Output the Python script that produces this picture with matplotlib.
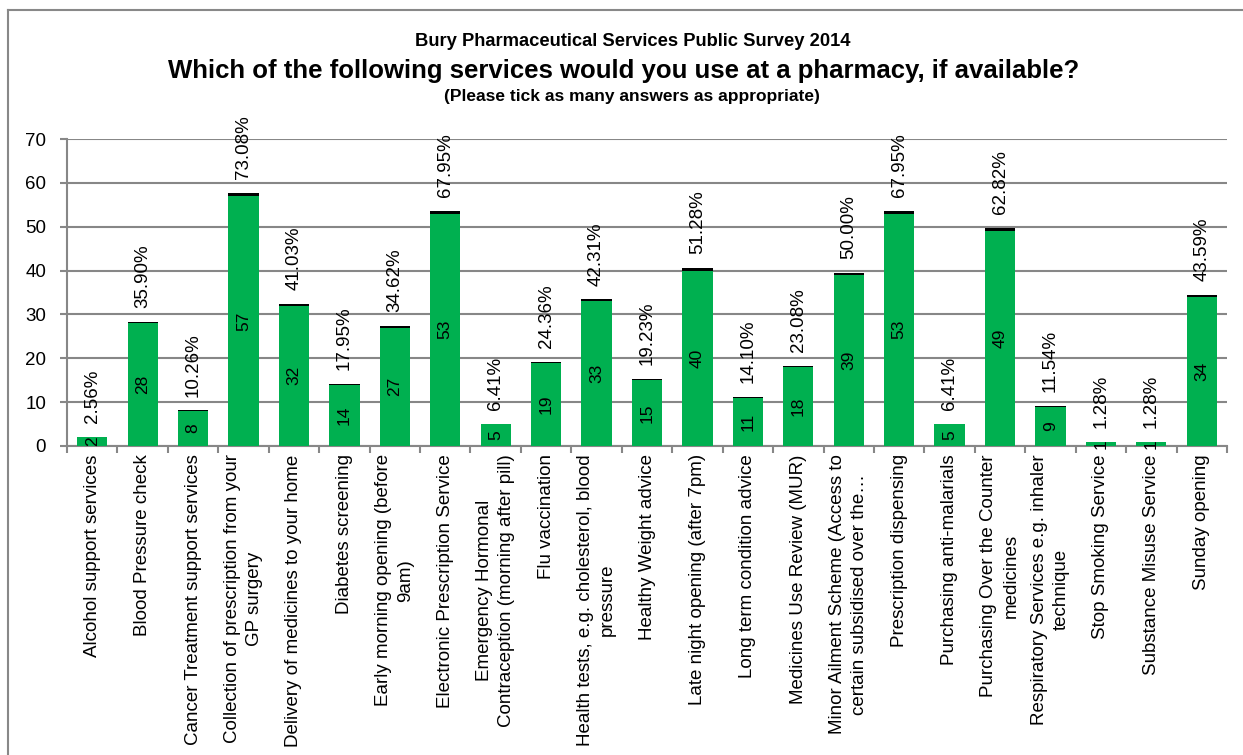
import matplotlib.pyplot as plt
from matplotlib.lines import Line2D

plt.rcParams['font.family'] = ['Liberation Sans', 'DejaVu Sans']

services = [
    "Alcohol support services",
    "Blood Pressure check",
    "Cancer Treatment support services",
    "Collection of prescription from your\nGP surgery",
    "Delivery of medicines to your home",
    "Diabetes screening",
    "Early morning opening (before\n9am)",
    "Electronic Prescription Service",
    "Emergency Hormonal\nContraception (morning after pill)",
    "Flu vaccination",
    "Health tests, e.g. cholesterol, blood\npressure",
    "Healthy Weight advice",
    "Late night opening (after 7pm)",
    "Long term condition advice",
    "Medicines Use Review (MUR)",
    "Minor Ailment Scheme (Access to\ncertain subsidised over the\u2026",
    "Prescription dispensing",
    "Purchasing anti-malarials",
    "Purchasing Over the Counter\nmedicines",
    "Respiratory Services e.g. inhaler\ntechnique",
    "Stop Smoking Service",
    "Substance Misuse Service",
    "Sunday opening",
]
counts = [2, 28, 8, 57, 32, 14, 27, 53, 5, 19, 33, 15, 40, 11, 18, 39, 53, 5, 49, 9, 1, 1, 34]
percents = [2.56, 35.90, 10.26, 73.08, 41.03, 17.95, 34.62, 67.95, 6.41, 24.36, 42.31, 19.23,
            51.28, 14.10, 23.08, 50.00, 67.95, 6.41, 62.82, 11.54, 1.28, 1.28, 43.59]

green = '#00B050'
grey = '#878787'

fig = plt.figure(figsize=(12.43, 7.55), dpi=100)
ax = fig.add_axes([67 / 1243, 1 - 446 / 755, 1160 / 1243, 307 / 755])

x = list(range(len(services)))
fractions = [p / 100 for p in percents]
ax.bar(x, counts, width=0.6, color=green, zorder=3)
ax.bar(x, fractions, width=0.6, bottom=counts, color='black', zorder=3)

for xi, c, p, f in zip(x, counts, percents, fractions):
    ax.text(xi, c / 2, str(c), rotation=90, ha='center', va='center',
            fontsize=12.5, zorder=4)
    ax.annotate('%.2f%%' % p, (xi, c + f), xytext=(0, 10), textcoords='offset points',
                rotation=90, ha='center', va='bottom', fontsize=13.5)

ax.set_xlim(-0.5, len(services) - 0.5)
ax.set_ylim(0, 70)
ax.set_yticks(range(0, 71, 10))
ax.yaxis.grid(True, color=grey, linewidth=1.5, zorder=0)
ax.tick_params(axis='y', labelsize=13.5, length=5, width=1.5, color=grey, pad=10)

ax.set_xticks(x)
ax.set_xticklabels(services, rotation=90, ha='center', va='top', multialignment='center',
                   fontsize=13.5, linespacing=1.4)
ax.set_xticks([i - 0.5 for i in range(len(services) + 1)], minor=True)
ax.tick_params(axis='x', which='major', length=0, pad=6)
ax.tick_params(axis='x', which='minor', length=5, width=1.5, color=grey)

for side in ['top', 'right']:
    ax.spines[side].set_visible(False)
for side in ['left', 'bottom']:
    ax.spines[side].set_color(grey)
    ax.spines[side].set_linewidth(1.5)

fig.text(0.509, 1 - 42 / 755, 'Bury Pharmaceutical Services Public Survey 2014',
         ha='center', va='center', fontsize=13.2, fontweight='bold')
fig.text(0.502, 1 - 71 / 755, 'Which of the following services would you use at a pharmacy, if available?',
         ha='center', va='center', fontsize=18.5, fontweight='bold')
fig.text(0.508, 1 - 97 / 755, '(Please tick as many answers as appropriate)',
         ha='center', va='center', fontsize=12.5, fontweight='bold')

# outer chart border
fig.add_artist(Line2D([8 / 1243, 1], [1 - 10 / 755, 1 - 10 / 755], color='#888888', lw=1.5,
                      transform=fig.transFigure))
fig.add_artist(Line2D([8 / 1243, 8 / 1243], [0, 1 - 10 / 755], color='#888888', lw=1.5,
                      transform=fig.transFigure))

fig.savefig('out.png', dpi=100)
